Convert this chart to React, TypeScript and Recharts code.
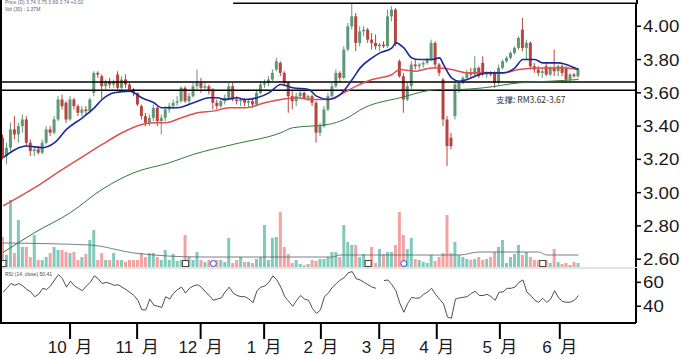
import React from 'react';
import {
  ComposedChart,
  Bar,
  Line,
  XAxis,
  YAxis,
  ReferenceLine,
  ReferenceDot,
  Cell
} from 'recharts';

// daily candles [open, high, low, close]
const candles: [number, number, number, number][] = [
  [3.33, 3.35, 3.2, 3.22], [3.22, 3.3, 3.17, 3.27], [3.27, 3.42, 3.25, 3.38], [3.38, 3.46, 3.32, 3.35], [3.35, 3.42, 3.3, 3.4],
  [3.4, 3.47, 3.36, 3.44], [3.44, 3.46, 3.28, 3.3], [3.3, 3.32, 3.22, 3.25], [3.25, 3.28, 3.22, 3.26], [3.26, 3.28, 3.23, 3.24],
  [3.24, 3.32, 3.23, 3.3], [3.3, 3.4, 3.29, 3.38], [3.38, 3.4, 3.34, 3.36], [3.36, 3.46, 3.35, 3.44], [3.44, 3.58, 3.43, 3.56],
  [3.56, 3.59, 3.5, 3.52], [3.54, 3.55, 3.42, 3.44], [3.44, 3.58, 3.43, 3.56], [3.56, 3.57, 3.5, 3.52], [3.52, 3.53, 3.46, 3.48],
  [3.48, 3.52, 3.46, 3.5], [3.5, 3.52, 3.47, 3.49], [3.49, 3.57, 3.48, 3.56], [3.6, 3.73, 3.58, 3.72], [3.72, 3.73, 3.69, 3.71],
  [3.7, 3.71, 3.56, 3.64], [3.64, 3.68, 3.62, 3.67], [3.67, 3.69, 3.63, 3.65], [3.65, 3.68, 3.63, 3.67], [3.71, 3.73, 3.62, 3.63],
  [3.63, 3.7, 3.62, 3.68], [3.68, 3.71, 3.63, 3.65], [3.65, 3.66, 3.61, 3.62], [3.62, 3.63, 3.58, 3.6], [3.6, 3.6, 3.52, 3.53],
  [3.52, 3.53, 3.44, 3.46], [3.46, 3.48, 3.4, 3.42], [3.42, 3.47, 3.4, 3.45], [3.45, 3.53, 3.43, 3.51], [3.51, 3.52, 3.4, 3.43],
  [3.43, 3.47, 3.35, 3.45], [3.45, 3.52, 3.43, 3.5], [3.5, 3.54, 3.48, 3.52], [3.52, 3.56, 3.5, 3.54], [3.54, 3.58, 3.52, 3.55],
  [3.55, 3.64, 3.54, 3.63], [3.63, 3.64, 3.54, 3.55], [3.55, 3.6, 3.53, 3.58], [3.58, 3.66, 3.57, 3.64], [3.64, 3.74, 3.62, 3.66],
  [3.66, 3.69, 3.6, 3.63], [3.63, 3.66, 3.61, 3.64], [3.64, 3.65, 3.59, 3.61], [3.62, 3.63, 3.5, 3.54], [3.54, 3.56, 3.5, 3.52],
  [3.52, 3.56, 3.51, 3.55], [3.55, 3.59, 3.53, 3.57], [3.57, 3.66, 3.56, 3.64], [3.64, 3.66, 3.55, 3.56], [3.56, 3.58, 3.53, 3.55],
  [3.55, 3.57, 3.52, 3.56], [3.56, 3.57, 3.52, 3.54], [3.54, 3.56, 3.51, 3.55], [3.55, 3.57, 3.51, 3.53], [3.53, 3.62, 3.52, 3.6],
  [3.6, 3.67, 3.59, 3.65], [3.65, 3.68, 3.63, 3.66], [3.66, 3.7, 3.64, 3.68], [3.68, 3.74, 3.67, 3.72], [3.74, 3.81, 3.73, 3.79],
  [3.78, 3.79, 3.7, 3.72], [3.72, 3.73, 3.64, 3.66], [3.66, 3.67, 3.48, 3.58], [3.58, 3.61, 3.5, 3.55], [3.55, 3.6, 3.52, 3.58],
  [3.58, 3.62, 3.56, 3.6], [3.6, 3.61, 3.56, 3.57], [3.57, 3.59, 3.55, 3.58], [3.58, 3.59, 3.52, 3.54], [3.54, 3.55, 3.3, 3.36],
  [3.36, 3.42, 3.34, 3.4], [3.4, 3.52, 3.39, 3.5], [3.5, 3.6, 3.49, 3.58], [3.58, 3.66, 3.57, 3.64], [3.64, 3.74, 3.63, 3.72],
  [3.72, 3.73, 3.66, 3.69], [3.69, 3.88, 3.68, 3.86], [3.86, 4.02, 3.85, 4.0], [4.0, 4.14, 3.98, 4.06], [4.06, 4.08, 3.85, 3.9],
  [3.9, 4.0, 3.88, 3.97], [3.97, 4.0, 3.94, 3.98], [3.98, 3.99, 3.9, 3.92], [3.92, 3.96, 3.86, 3.9], [3.9, 3.95, 3.86, 3.88],
  [3.88, 3.9, 3.85, 3.89], [3.89, 3.91, 3.87, 3.88], [3.88, 4.1, 3.87, 4.06], [4.06, 4.12, 4.03, 4.1], [4.1, 4.11, 3.88, 3.9],
  [3.79, 3.8, 3.69, 3.7], [3.7, 3.72, 3.48, 3.56], [3.56, 3.66, 3.55, 3.64], [3.64, 3.79, 3.62, 3.77], [3.77, 3.8, 3.74, 3.76],
  [3.76, 3.78, 3.74, 3.77], [3.77, 3.79, 3.75, 3.78], [3.78, 3.81, 3.77, 3.8], [3.8, 3.92, 3.79, 3.9], [3.9, 3.91, 3.75, 3.77],
  [3.77, 3.78, 3.7, 3.72], [3.68, 3.69, 3.4, 3.44], [3.44, 3.46, 3.16, 3.28], [3.33, 3.36, 3.26, 3.28], [3.46, 3.67, 3.44, 3.65],
  [3.62, 3.67, 3.6, 3.66], [3.66, 3.7, 3.65, 3.69], [3.69, 3.74, 3.68, 3.72], [3.72, 3.75, 3.69, 3.71], [3.71, 3.82, 3.7, 3.75],
  [3.75, 3.76, 3.69, 3.7], [3.78, 3.82, 3.7, 3.71], [3.71, 3.73, 3.69, 3.72], [3.72, 3.73, 3.7, 3.71], [3.72, 3.73, 3.63, 3.66],
  [3.66, 3.77, 3.65, 3.75], [3.75, 3.8, 3.74, 3.79], [3.79, 3.82, 3.78, 3.81], [3.81, 3.85, 3.8, 3.84], [3.84, 3.88, 3.83, 3.87],
  [3.87, 3.94, 3.86, 3.93], [3.98, 4.05, 3.85, 3.87], [3.87, 3.92, 3.8, 3.9], [3.9, 3.91, 3.74, 3.76], [3.76, 3.78, 3.72, 3.74],
  [3.74, 3.76, 3.7, 3.72], [3.72, 3.75, 3.69, 3.73], [3.76, 3.78, 3.7, 3.71], [3.71, 3.76, 3.7, 3.75], [3.75, 3.86, 3.7, 3.73],
  [3.73, 3.77, 3.7, 3.76], [3.76, 3.77, 3.7, 3.72], [3.75, 3.76, 3.67, 3.68], [3.68, 3.72, 3.67, 3.71], [3.71, 3.72, 3.69, 3.7],
  [3.7, 3.75, 3.69, 3.74]
];

// volume, million shares
const volumes = [
  3.0, 1.2, 6.7, 1.4, 4.7, 2.0, 2.0, 1.0, 3.2, 0.7,
  0.7, 1.0, 1.4, 2.0, 1.7, 1.7, 1.5, 1.4, 1.5, 0.7,
  1.0, 1.3, 2.7, 3.7, 0.7, 1.4, 0.7, 0.7, 1.4, 0.7,
  0.7, 0.5, 0.7, 0.7, 0.7, 1.4, 1.0, 1.4, 1.4, 1.0,
  0.7, 1.7, 0.7, 1.3, 0.6, 0.7, 3.2, 1.0, 0.7, 1.5,
  0.7, 0.5, 0.7, 0.5, 0.7, 0.7, 0.5, 2.9, 0.4, 0.7,
  1.0, 0.5, 0.5, 0.4, 0.8, 1.0, 4.2, 0.7, 2.9, 3.0,
  5.5, 2.0, 1.3, 0.4, 0.7, 0.3, 0.2, 0.3, 0.7, 0.6,
  0.8, 0.8, 1.0, 1.5, 1.5, 1.0, 4.2, 2.5, 2.2, 2.2,
  1.0, 1.3, 0.7, 2.0, 0.4, 1.8, 1.3, 1.5, 1.5, 2.2,
  5.5, 3.2, 1.8, 2.9, 0.8, 0.7, 0.5, 0.4, 1.2, 0.6,
  1.0, 1.4, 5.2, 1.4, 2.5, 1.2, 1.0, 0.8, 0.7, 0.8,
  1.0, 0.7, 0.8, 1.0, 1.5, 2.0, 2.7, 0.4, 1.0, 1.3,
  2.2, 1.2, 1.5, 1.0, 0.7, 0.7, 0.5, 0.7, 0.4, 1.8,
  0.5, 0.3, 0.4, 0.2, 0.5, 0.4
];

const rsi: (number | null)[] = [
  51.7, 55, 59, 57.5, 59, 57, 54, 52, 48, 50,
  55, 54, 57, 62, 66.5, 63, 56, 61, 57, 55,
  53, 57, 60, 65.5, 63, 59, 60, 59, 57.5, 58,
  56, 54, 51.5, 49, 45, 37, 37, 46, 41, 40,
  39, 48, 46, 51, 54, 56, 51, 55, 57, 58,
  56, 52, 49, 45, 46, 47, 52, 56, 51, 49,
  48, 48, 46, 43, 53, 56, 57, 60, 65.5, 62,
  56, 48, 44, 40, 45, 49, 46, 45, 38, 34,
  37, 48, 51, 56, 59, 62, 64, 68, 69, 63,
  62, 60, 58, 56, 55, null, 61.5, 62, 58, 53,
  42.5, 35, 42.5, 47.5, 46.7, 47, 50, 52, 55, 50,
  46, 42, 31, 30, 46, 47, 47.5, 48, 50.8, 52.5,
  49, 49, 50, 48, 45, 51.7, 52, 55, 55, 56,
  60, 62, 52, 49, 45, 43.3, 46.7, 43.3, 46, 53,
  47, 44, 43.3, 43.5, 45, 49
];

// moving averages, [day index, value]
const maFast: [number, number][] = [
  [0, 3.21], [6, 3.28], [10, 3.27], [13, 3.3], [16, 3.38], [20, 3.45], [23, 3.51], [25, 3.56], [28, 3.6],
  [32, 3.61], [33, 3.6], [35, 3.57], [38, 3.54], [40, 3.51], [44, 3.51], [48, 3.54], [52, 3.57], [54, 3.57],
  [56, 3.56], [59, 3.57], [61, 3.56], [64, 3.57], [67, 3.6], [70, 3.65], [73, 3.63], [77, 3.62], [79, 3.58],
  [82, 3.56], [85, 3.59], [88, 3.68], [90, 3.75], [93, 3.81], [95, 3.84], [98, 3.87], [99, 3.9], [101, 3.87],
  [103, 3.81], [105, 3.8], [108, 3.8], [110, 3.81], [111, 3.77], [113, 3.69], [115, 3.67], [117, 3.68],
  [120, 3.71], [122, 3.72], [126, 3.72], [129, 3.75], [131, 3.8], [134, 3.8], [136, 3.78], [140, 3.78],
  [143, 3.76], [145, 3.74]
];
const maMid: [number, number][] = [
  [0, 2.92], [8, 3.03], [15, 3.14], [19, 3.2], [25, 3.29], [30, 3.36], [35, 3.41], [38, 3.42], [41, 3.42],
  [45, 3.45], [49, 3.48], [53, 3.49], [57, 3.51], [61, 3.51], [66, 3.54], [70, 3.56], [74, 3.57], [78, 3.56],
  [82, 3.56], [85, 3.59], [89, 3.64], [93, 3.68], [98, 3.71], [100, 3.74], [104, 3.73], [108, 3.75], [110, 3.75],
  [113, 3.74], [117, 3.72], [121, 3.72], [126, 3.72], [130, 3.74], [134, 3.75], [138, 3.75], [142, 3.75], [145, 3.74]
];
const maSlow: [number, number][] = [
  [0, 2.64], [8, 2.76], [17, 2.88], [25, 3.02], [33, 3.12], [42, 3.18], [48, 3.23], [58, 3.29], [70, 3.36],
  [73, 3.39], [82, 3.41], [86, 3.44], [91, 3.51], [100, 3.57], [110, 3.62], [114, 3.62], [121, 3.63],
  [130, 3.66], [138, 3.67], [145, 3.68]
];
const volMa: [number, number][] = [
  [0, 2.4], [22, 2.2], [33, 1.4], [50, 1.0], [83, 1.0], [85, 1.2], [115, 1.2], [120, 1.5], [135, 1.5], [137, 1.2], [145, 1.2]
];

const eventMarks = [
  { i: 0, kind: 'box' }, { i: 46, kind: 'box' }, { i: 53, kind: 'circle' },
  { i: 92, kind: 'box' }, { i: 101, kind: 'circle' }, { i: 136, kind: 'box' }
];

const priceTicks = [2.6, 2.8, 3.0, 3.2, 3.4, 3.6, 3.8, 4.0];
const rsiTicks = [40, 60];
const monthTicks = [16.9, 33.8, 49.8, 65.8, 80.1, 94.8, 109.3, 125.2, 140.3];
const monthNums = ['10', '11', '12', '1', '2', '3', '4', '5', '6'];
const supportLow = 3.615;
const supportHigh = 3.665;
const priceTop = 4.138;

const FONT = "'Liberation Sans', Arial, 'Noto Sans CJK SC', sans-serif";
const UP = '#5e9878';
const DOWN = '#b8453d';
const VOL_UP = '#80c9bb';
const VOL_DOWN = '#f2a2a0';
const X_DOMAIN: [number, number] = [-0.5, 159.5];

const pick = (arr: [number, number][], i: number) => {
  const hit = arr.find(p => p[0] === i);
  return hit ? hit[1] : null;
};

const rows = candles.map(([o, h, l, c], i) => ({
  i,
  o,
  h,
  l,
  c,
  range: [l, h],
  vol: volumes[i] ?? null,
  rsi: rsi[i] ?? null,
  fast: pick(maFast, i),
  mid: pick(maMid, i),
  slow: pick(maSlow, i),
  volMa: pick(volMa, i)
}));

const Candle = (props: any) => {
  const { x, y, width, height, payload } = props;
  if (!payload || x == null) return null;
  const { o, h, l, c } = payload;
  const color = c >= o ? UP : DOWN;
  const top = Math.min(y, y + height);
  const full = Math.abs(height);
  const ratio = h === l ? 0 : full / (h - l);
  const yO = top + (h - o) * ratio;
  const yC = top + (h - c) * ratio;
  const cx = x + width / 2;
  return (
    <g>
      <line x1={cx} x2={cx} y1={top} y2={top + full} stroke={color} strokeWidth={1} />
      <rect x={x} y={Math.min(yO, yC)} width={width} height={Math.max(1, Math.abs(yO - yC))} fill={color} />
    </g>
  );
};

const RightTick = ({ x, y, payload, fixed }: any) => (
  <g transform={`translate(${x},${y})`}>
    <text
      x={0}
      y={0}
      dy={6}
      textAnchor="start"
      fontSize={17}
      fill="#1a1a1a"
      fontFamily={FONT}
      transform="scale(1.1,1)"
    >
      {fixed ? Number(payload.value).toFixed(2) : payload.value}
    </text>
  </g>
);

const MonthTick = ({ x, y, payload }: any) => {
  const n = monthNums[monthTicks.indexOf(payload.value)];
  return (
    <text x={x} y={y} dy={10} textAnchor="middle" fontSize={17} fill="#1a1a1a" fontFamily={FONT}>
      {`${n}\u2002月`}
    </text>
  );
};

const EventMark = ({ cx, cy, kind }: any) =>
  kind === 'circle' ? (
    <circle cx={cx} cy={cy} r={3} fill="#fff" stroke="#3553c4" strokeWidth={1} />
  ) : (
    <rect x={cx - 3} y={cy - 3} width={6} height={6} fill="#fff" stroke="#444" strokeWidth={1} />
  );

export default function App() {
  return (
    <div style={{ position: 'absolute', left: 0, top: 0, width: 681, height: 358, background: '#fff', overflow: 'hidden' }}>
      <div style={{ position: 'absolute', left: 0, top: 0 }}>
        <ComposedChart width={681} height={268} data={rows} margin={{ top: 3, right: 0, bottom: 1, left: 1 }}>
          <XAxis xAxisId="p" dataKey="i" type="number" domain={X_DOMAIN} hide />
          <XAxis xAxisId="v" dataKey="i" type="number" domain={X_DOMAIN} hide />
          <YAxis
            yAxisId="p"
            orientation="right"
            width={45}
            domain={[2.553, priceTop]}
            ticks={priceTicks}
            interval={0}
            axisLine={{ stroke: '#000', strokeWidth: 2 }}
            tickLine={{ stroke: '#000', strokeWidth: 1.5 }}
            tickSize={5}
            tick={<RightTick fixed />}
          />
          <YAxis yAxisId="v" domain={[0, 26.4]} hide />
          <Bar xAxisId="v" yAxisId="v" dataKey="vol" barSize={3} isAnimationActive={false}>
            {rows.map(r => (
              <Cell key={r.i} fill={r.c >= r.o ? VOL_UP : VOL_DOWN} />
            ))}
          </Bar>
          <Line xAxisId="v" yAxisId="v" dataKey="volMa" stroke="#556070" strokeWidth={0.8} dot={false} connectNulls type="monotone" isAnimationActive={false} />
          {eventMarks.map(m => (
            <ReferenceDot
              key={m.i}
              xAxisId="v"
              yAxisId="v"
              x={m.i}
              y={0.35}
              r={3}
              shape={(p: any) => <EventMark {...p} kind={m.kind} />}
            />
          ))}
          <ReferenceLine xAxisId="p" yAxisId="p" y={supportHigh} stroke="#000" strokeWidth={1.5} />
          <ReferenceLine xAxisId="p" yAxisId="p" y={supportLow} stroke="#000" strokeWidth={1.5} />
          <ReferenceLine
            xAxisId="p"
            yAxisId="p"
            segment={[{ x: 58, y: priceTop }, { x: 159.5, y: priceTop }]}
            stroke="#000"
            strokeWidth={1.5}
          />
          <Bar xAxisId="p" yAxisId="p" dataKey="range" barSize={3} shape={(p: any) => <Candle {...p} />} isAnimationActive={false} />
          <Line xAxisId="p" yAxisId="p" dataKey="slow" stroke="#2f7a35" strokeWidth={1} dot={false} connectNulls type="monotone" isAnimationActive={false} />
          <Line xAxisId="p" yAxisId="p" dataKey="mid" stroke="#dc5050" strokeWidth={1.5} dot={false} connectNulls type="monotone" isAnimationActive={false} />
          <Line xAxisId="p" yAxisId="p" dataKey="fast" stroke="#1c2a9c" strokeWidth={1.6} dot={false} connectNulls type="monotone" isAnimationActive={false} />
        </ComposedChart>
      </div>

      <div style={{ position: 'absolute', left: 0, top: 267 }}>
        <ComposedChart width={681} height={91} data={rows} margin={{ top: 1, right: 0, bottom: 0, left: 1 }}>
          <XAxis
            dataKey="i"
            type="number"
            domain={X_DOMAIN}
            ticks={monthTicks}
            interval={0}
            height={35}
            tickSize={16}
            tickMargin={4}
            axisLine={{ stroke: '#000', strokeWidth: 2 }}
            tickLine={{ stroke: '#000', strokeWidth: 2 }}
            tick={<MonthTick />}
          />
          <YAxis
            orientation="right"
            width={45}
            domain={[26, 72]}
            ticks={rsiTicks}
            interval={0}
            axisLine={{ stroke: '#000', strokeWidth: 2 }}
            tickLine={{ stroke: '#000', strokeWidth: 1.5 }}
            tickSize={5}
            tick={<RightTick />}
          />
          <ReferenceLine y={72} stroke="#c8c8c8" strokeWidth={1} />
          <Line dataKey="rsi" stroke="#222" strokeWidth={0.8} dot={false} type="linear" isAnimationActive={false} />
        </ComposedChart>
      </div>

      <div style={{ position: 'absolute', left: 0, top: 0, width: 0, height: 324, borderLeft: '2px solid #000' }} />
      <div style={{ position: 'absolute', left: 636, top: 0, width: 0, height: 4, borderLeft: '2px solid #000' }} />
      <div style={{ position: 'absolute', left: 5, top: 0, fontSize: 5, lineHeight: 1, color: '#667', fontFamily: FONT, whiteSpace: 'nowrap' }}>
        Price (D) 3.74 3.75 3.69 3.74 +0.02
      </div>
      <div style={{ position: 'absolute', left: 5, top: 7, fontSize: 5, lineHeight: 1, color: '#556', fontFamily: FONT, whiteSpace: 'nowrap' }}>
        Vol (30) : 1.37M
      </div>
      <div style={{ position: 'absolute', left: 5, top: 272, fontSize: 5, lineHeight: 1, color: '#445', fontFamily: FONT, whiteSpace: 'nowrap' }}>
        RSI (14, close) 50.41
      </div>
      <div
        style={{
          position: 'absolute',
          left: 496,
          top: 95,
          fontSize: 8.5,
          lineHeight: 1,
          color: '#333',
          fontFamily: "'Noto Sans CJK SC', sans-serif",
          whiteSpace: 'nowrap'
        }}
      >
        支撑: RM3.62-3.67
      </div>
    </div>
  );
}
